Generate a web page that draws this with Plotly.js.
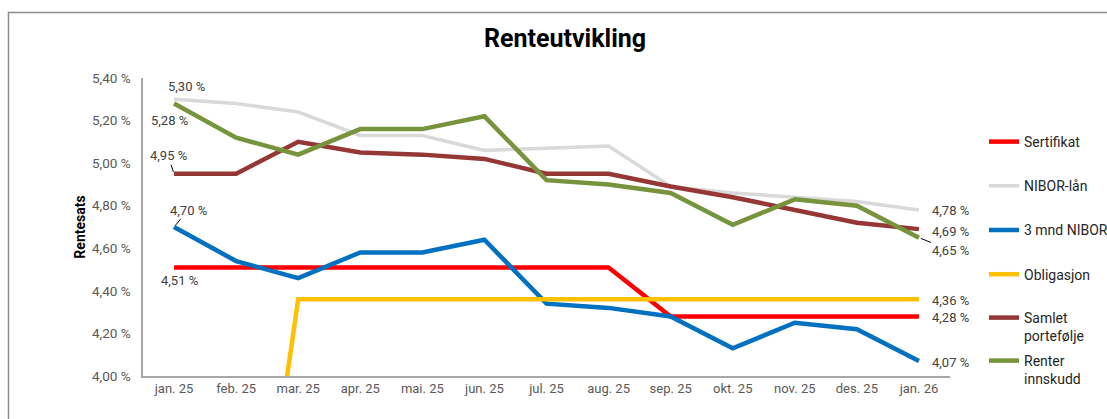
<!DOCTYPE html>
<html>
<head>
<meta charset="utf-8">
<script src="https://cdn.plot.ly/plotly-3.0.1.min.js"></script>
<style>
  html, body { margin: 0; padding: 0; background: #ffffff; }
  #chart { width: 1107px; height: 419px; }
</style>
</head>
<body>
<div id="chart"></div>
<script>
// ---- Data (percent) ----
const months = ['jan. 25','feb. 25','mar. 25','apr. 25','mai. 25','jun. 25','jul. 25','aug. 25','sep. 25','okt. 25','nov. 25','des. 25','jan. 26'];
const seriesNames = ['Sertifikat', 'NIBOR-lån', '3 mnd NIBOR', 'Obligasjon', 'Samlet<br>portefølje', 'Renter<br>innskudd'];
const sertifikat = [4.51, 4.51, 4.51, 4.51, 4.51, 4.51, 4.51, 4.51, 4.28, 4.28, 4.28, 4.28, 4.28];
const niborLan   = [5.30, 5.28, 5.24, 5.13, 5.13, 5.06, 5.07, 5.08, 4.89, 4.86, 4.84, 4.82, 4.78];
const nibor3m    = [4.70, 4.54, 4.46, 4.58, 4.58, 4.64, 4.34, 4.32, 4.28, 4.13, 4.25, 4.22, 4.07];
const obligasjon = [null, 2.34, 4.36, 4.36, 4.36, 4.36, 4.36, 4.36, 4.36, 4.36, 4.36, 4.36, 4.36];
const samlet     = [4.95, 4.95, 5.10, 5.05, 5.04, 5.02, 4.95, 4.95, 4.89, 4.84, 4.78, 4.72, 4.69];
const renter     = [5.28, 5.12, 5.04, 5.16, 5.16, 5.22, 4.92, 4.90, 4.86, 4.71, 4.83, 4.80, 4.65];

const colors = ['#FF0000', '#D9D9D9', '#0070C0', '#FFC000', '#953735', '#77933C'];
const allSeries = [sertifikat, niborLan, nibor3m, obligasjon, samlet, renter];

const fmt = v => v.toFixed(2).replace('.', ',') + ' %';
const last = months.length - 1;
const FONT = 'Roboto, Arial, sans-serif';
const legendIds = ['legend', 'legend', 'legend', 'legend', 'legend2', 'legend3'];

const traces = allSeries.map((ys, i) => ({
  type: 'scatter',
  mode: 'lines',
  x: months,
  y: ys,
  name: seriesNames[i],
  legendgroup: 'g' + i,
  legend: legendIds[i],
  line: { color: colors[i], width: i === 1 ? 3.5 : 4.5 },
  connectgaps: false,
  hoverinfo: 'x+y+name'
}));

const labelFont = { family: FONT, size: 13, color: '#404040' };
function lab(x, y, xs, ys) {
  return { x: x, y: y, xref: 'x', yref: 'y', text: fmt(y), showarrow: false,
           xshift: xs, yshift: ys, font: labelFont };
}
function labArrow(x, y, ax, ay) {
  return { x: x, y: y, xref: 'x', yref: 'y', text: fmt(y), showarrow: true,
           ax: ax, ay: ay, arrowhead: 0, arrowwidth: 1, arrowcolor: '#000000',
           standoff: 2, startstandoff: 0, font: labelFont };
}

const annotations = [
  lab(months[0], niborLan[0], 12, 13),
  lab(months[0], renter[0], -5, -17),
  labArrow(months[0], samlet[0], -6, -18),
  labArrow(months[0], nibor3m[0], 14, -17),
  lab(months[0], sertifikat[0], 5, -13),
  lab(months[last], niborLan[last], 32, -1),
  lab(months[last], samlet[last], 32, -2),
  labArrow(months[last], renter[last], 32, 13),
  lab(months[last], obligasjon[last], 32, -1),
  lab(months[last], sertifikat[last], 32, -1),
  lab(months[last], nibor3m[last], 32, -1)
];

function legendAt(topPx, extra) {
  return Object.assign({
    xref: 'container', yref: 'container',
    x: 984 / 1107, xanchor: 'left',
    y: 1 - topPx / 419, yanchor: 'top',
    valign: 'top',
    bgcolor: 'rgba(0,0,0,0)',
    borderwidth: 0,
    font: { family: FONT, size: 14, color: '#262626' }
  }, extra || {});
}

const layout = {
  width: 1107,
  height: 419,
  margin: { l: 143, r: 157, t: 78, b: 43, pad: 0 },
  paper_bgcolor: '#ffffff',
  plot_bgcolor: '#ffffff',
  separators: ', ',
  font: { family: FONT, size: 13, color: '#595959' },
  title: {
    text: '<b>Renteutvikling</b>',
    x: 565 / 1107, xanchor: 'center', xref: 'container',
    y: 1 - 38 / 419, yanchor: 'middle', yref: 'container',
    font: { family: FONT, size: 25, color: '#000000' }
  },
  xaxis: {
    type: 'category',
    categoryorder: 'array',
    categoryarray: months,
    range: [-0.5, months.length - 0.5],
    showgrid: false,
    zeroline: false,
    showline: true,
    linecolor: '#A6A6A6',
    linewidth: 1.5,
    ticks: '',
    tickfont: { family: FONT, size: 13, color: '#595959' },
    fixedrange: true
  },
  yaxis: {
    range: [4.0, 5.4],
    tick0: 4.0,
    dtick: 0.2,
    tickformat: '.2f',
    ticksuffix: ' %',
    showgrid: false,
    zeroline: false,
    showline: true,
    linecolor: '#A6A6A6',
    linewidth: 1.5,
    ticks: '',
    ticklabelstandoff: 8,
    tickfont: { family: FONT, size: 13.5, color: '#595959' },
    title: { text: '<b>Rentesats</b>', standoff: 3,
             font: { family: FONT, size: 14, color: '#000000' } },
    fixedrange: true
  },
  showlegend: true,
  legend: legendAt(126, { traceorder: 'grouped', tracegroupgap: 23 }),
  legend2: legendAt(302),
  legend3: legendAt(345),
  annotations: annotations,
  shapes: [{
    type: 'path', xref: 'paper', yref: 'paper',
    path: 'M ' + ((8.5 - 143) / 807) + ',' + (-1) + ' L ' + ((8.5 - 143) / 807) + ',' + ((376 - 12.5) / 298) +
          ' L ' + 2 + ',' + ((376 - 12.5) / 298),
    line: { color: '#8C8C8C', width: 1.5 },
    layer: 'below'
  }]
};

Plotly.newPlot('chart', traces, layout, { displayModeBar: false, responsive: false });
</script>
</body>
</html>
